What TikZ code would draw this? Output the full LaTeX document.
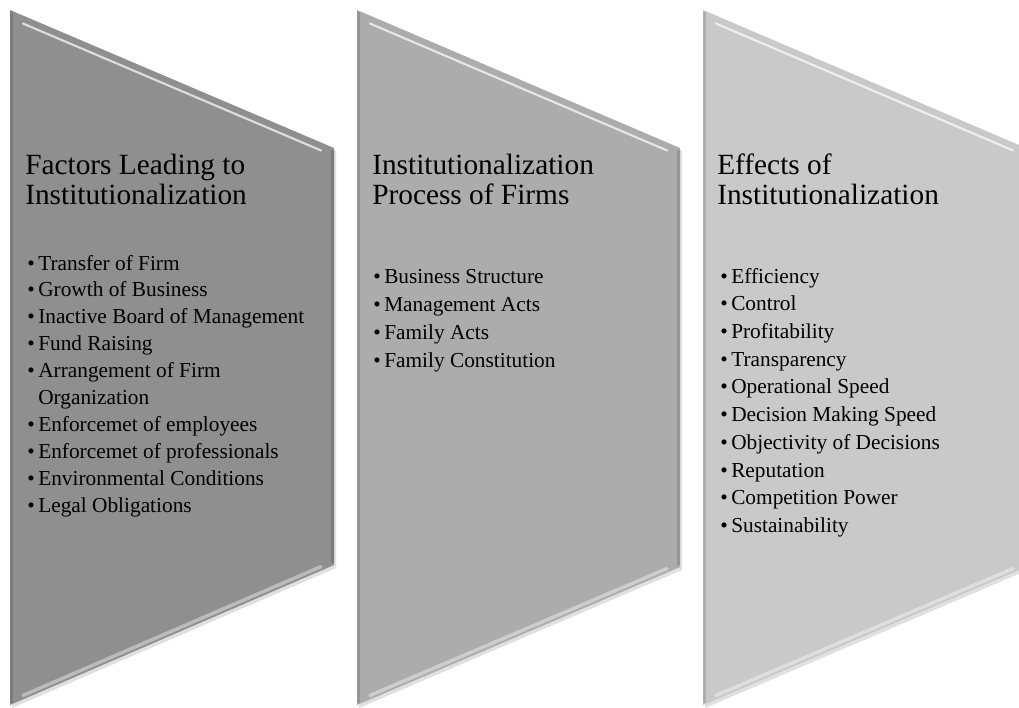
\documentclass[tikz,border=0pt]{standalone}
\usepackage{fontspec}
\setmainfont{Liberation Serif}
\usepackage[dvipsnames]{xcolor}
\usetikzlibrary{positioning,calc}

\definecolor{panelA}{HTML}{8F8F8F}
\definecolor{panelB}{HTML}{ACACAC}
\definecolor{panelC}{HTML}{C9C9C9}

\newcommand{\bul}{\makebox[8.25pt][l]{\textbullet}}
\newcommand{\hang}{\hspace*{8.25pt}}

\begin{document}
\begin{tikzpicture}[x=0.75pt,y=-0.75pt,
  shadow/.style={fill=black, opacity=0.12},
  rim/.style={white, opacity=0.7, line width=1.6pt, line cap=round},
  lowrim/.style={white, opacity=0.4, line width=2.6pt, line cap=round},
  edge/.style={black, opacity=0.13, line width=2.5pt},
  heading/.style={anchor=base west, inner sep=0pt, text=black, font=\fontsize{22}{22.5}\selectfont},
  items/.style={anchor=base west, inner sep=0pt, text=black}]

\clip (0,0) rectangle (1019,707);

% first panel
\coordinate (a1) at (10,10);
\coordinate (b1) at (334,148);
\coordinate (c1) at (334,565);
\coordinate (d1) at (10,705);
\fill[shadow] ([shift={(2,3)}]a1) -- ([shift={(2,3)}]b1) -- ([shift={(2,3)}]c1) -- ([shift={(2,3)}]d1) -- cycle;
\fill[panelA] (a1) -- (b1) -- (c1) -- (d1) -- cycle;
\draw[edge] ([shift={(1.5,2)}]a1) -- ([shift={(1.5,-2)}]d1);
\draw[edge] ([shift={(-1.5,2)}]b1) -- ([shift={(-1.5,-2)}]c1);
\draw[rim] ($(a1)!0.04!(b1)+(0,8)$) -- ($(a1)!0.96!(b1)+(0,8)$);
\draw[lowrim] ($(d1)!0.04!(c1)+(0,-4)$) -- ($(d1)!0.96!(c1)+(0,-4)$);

% second panel
\coordinate (a2) at (357,10);
\coordinate (b2) at (680,148);
\coordinate (c2) at (680,567);
\coordinate (d2) at (357,705);
\fill[shadow] ([shift={(2,3)}]a2) -- ([shift={(2,3)}]b2) -- ([shift={(2,3)}]c2) -- ([shift={(2,3)}]d2) -- cycle;
\fill[panelB] (a2) -- (b2) -- (c2) -- (d2) -- cycle;
\draw[edge] ([shift={(1.5,2)}]a2) -- ([shift={(1.5,-2)}]d2);
\draw[edge] ([shift={(-1.5,2)}]b2) -- ([shift={(-1.5,-2)}]c2);
\draw[rim] ($(a2)!0.04!(b2)+(0,8)$) -- ($(a2)!0.96!(b2)+(0,8)$);
\draw[lowrim] ($(d2)!0.04!(c2)+(0,-4)$) -- ($(d2)!0.96!(c2)+(0,-4)$);

% third panel (runs past the right margin)
\coordinate (a3) at (703,10);
\coordinate (b3) at (1026,148);
\coordinate (c3) at (1026,567);
\coordinate (d3) at (703,705);
\fill[shadow] ([shift={(2,3)}]a3) -- ([shift={(2,3)}]b3) -- ([shift={(2,3)}]c3) -- ([shift={(2,3)}]d3) -- cycle;
\fill[panelC] (a3) -- (b3) -- (c3) -- (d3) -- cycle;
\draw[edge] ([shift={(1.5,2)}]a3) -- ([shift={(1.5,-2)}]d3);
\draw[rim] ($(a3)!0.04!(b3)+(0,8)$) -- ($(a3)!0.96!(b3)+(0,8)$);
\draw[lowrim] ($(d3)!0.04!(c3)+(0,-4)$) -- ($(d3)!0.96!(c3)+(0,-4)$);

\node[heading] (head1) at (25,174) {\parbox[t]{240pt}{\raggedright Factors Leading to\\Institutionalization}};
\node[heading] (head2) at (372,174) {\parbox[t]{240pt}{\raggedright Institutionalization\\Process of Firms}};
\node[heading] (head3) at (717,174) {\parbox[t]{240pt}{\raggedright Effects of\\Institutionalization}};

\node[items, font=\fontsize{16}{20.2}\selectfont] (list1) at (27,270) {\parbox[t]{240pt}{\raggedright
  \bul Transfer of Firm\\
  \bul Growth of Business\\
  \bul Inactive Board of Management\\
  \bul Fund Raising\\
  \bul Arrangement of Firm\\
  \hang Organization\\
  \bul Enforcemet of employees\\
  \bul Enforcemet of professionals\\
  \bul Environmental Conditions\\
  \bul Legal Obligations}};
\node[items, font=\fontsize{16}{21.2}\selectfont] (list2) at (373,283) {\parbox[t]{240pt}{\raggedright
  \bul Business Structure\\
  \bul Management Acts\\
  \bul Family Acts\\
  \bul Family Constitution}};
\node[items, font=\fontsize{16}{20.8}\selectfont] (list3) at (720,283) {\parbox[t]{240pt}{\raggedright
  \bul Efficiency\\
  \bul Control\\
  \bul Profitability\\
  \bul Transparency\\
  \bul Operational Speed\\
  \bul Decision Making Speed\\
  \bul Objectivity of Decisions\\
  \bul Reputation\\
  \bul Competition Power\\
  \bul Sustainability}};
\end{tikzpicture}
\end{document}
